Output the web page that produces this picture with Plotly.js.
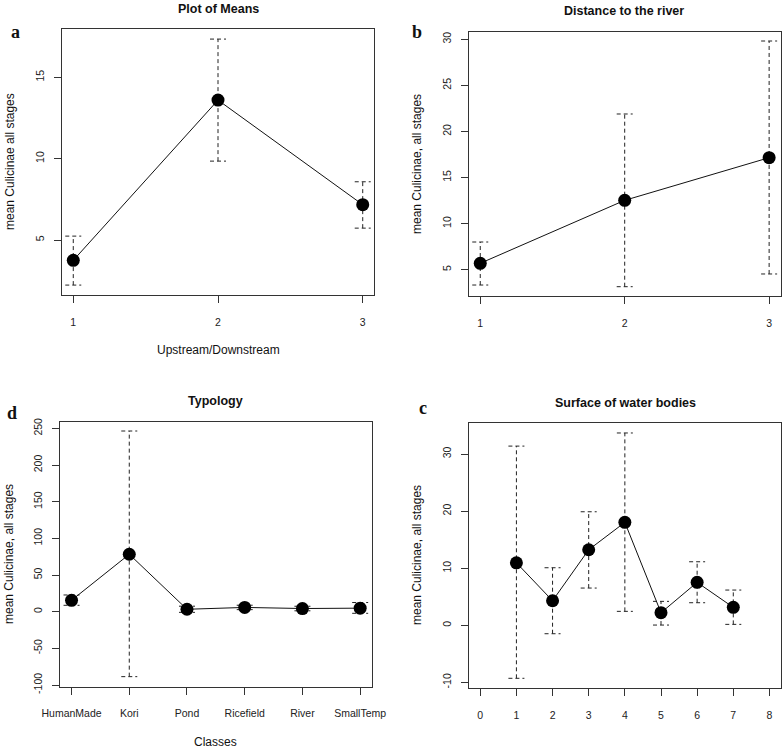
<!DOCTYPE html>
<html>
<head>
<meta charset="utf-8">
<script src="https://cdn.plot.ly/plotly-3.0.1.min.js"></script>
<style>html,body{margin:0;padding:0;background:#fff}#chart{width:784px;height:750px}</style>
</head>
<body>
<div id="chart"></div>
<script>
// ---- Data ----
// Panel a: Plot of Means (Upstream/Downstream)
const aX = [1, 2, 3];
const aMean = [3.75, 13.6, 7.17];
const aUpper = [5.24, 17.35, 8.58];
const aLower = [2.23, 9.85, 5.73];

// Panel b: Distance to the river
const bX = [1, 2, 3];
const bMean = [5.70, 12.53, 17.16];
const bUpper = [8.01, 21.9, 29.82];
const bLower = [3.34, 3.16, 4.54];

// Panel d: Typology
const dClasses = ["HumanMade", "Kori", "Pond", "Ricefield", "River", "SmallTemp"];
const dMean = [15.5, 78.3, 3.3, 5.8, 4.3, 4.8];
const dUpper = [22.8, 246.4, 7.5, 8.8, 7.4, 12.5];
const dLower = [8.7, -88.6, -0.9, 2.8, 1.2, -2.2];

// Panel c: Surface of water bodies
const cX = [1, 2, 3, 4, 5, 6, 7];
const cMean = [10.96, 4.31, 13.24, 18.04, 2.21, 7.53, 3.15];
const cUpper = [31.4, 10.09, 19.9, 33.7, 4.2, 11.14, 6.18];
const cLower = [-9.28, -1.47, 6.53, 2.45, 0.05, 3.96, 0.17];

// Tick values
const aYTicks = [5, 10, 15];
const bYTicks = [5, 10, 15, 20, 25, 30];
const dYTicks = [-100, -50, 0, 50, 100, 150, 200, 250];
const cXTicks = [0, 1, 2, 3, 4, 5, 6, 7, 8];
const cYTicks = [-10, 0, 10, 20, 30];

// ---- Layout geometry ----
const W = 784, H = 750;
const panels = {
  a: {xd: [61.7, 374.3], yd: [29, 295], xr: [0.92, 3.08], yr: [1.62, 17.97]},
  b: {xd: [468.7, 780.7], yd: [31.7, 296], xr: [0.92, 3.08], yr: [2.15, 30.83]},
  d: {xd: [60, 371.7], yd: [421.7, 686.7], xr: [0.8, 6.2], yr: [-102.3, 259.1]},
  c: {xd: [468.7, 781], yd: [422.7, 688.3], xr: [-0.32, 8.32], yr: [-11.03, 35.5]}
};
const CAP_PX = 8;

function errTraces(xs, lo, hi, p, xa, ya) {
  const pxPerUnit = (p.xd[1] - p.xd[0]) / (p.xr[1] - p.xr[0]);
  const hw = CAP_PX / pxPerUnit;
  const vx = [], vy = [], cx = [], cy = [];
  xs.forEach((x, i) => {
    vx.push(x, x, null); vy.push(lo[i], hi[i], null);
    cx.push(x - hw, x + hw, null); cy.push(hi[i], hi[i], null);
    cx.push(x - hw, x + hw, null); cy.push(lo[i], lo[i], null);
  });
  const line = {color: '#222', width: 1, dash: '4px,3px'};
  return [
    {x: vx, y: vy, xaxis: xa, yaxis: ya, mode: 'lines', line: line, hoverinfo: 'skip', showlegend: false},
    {x: cx, y: cy, xaxis: xa, yaxis: ya, mode: 'lines', line: line, hoverinfo: 'skip', showlegend: false}
  ];
}
function meanTrace(xs, ys, xa, ya) {
  return {x: xs, y: ys, xaxis: xa, yaxis: ya, mode: 'lines+markers',
    line: {color: '#111', width: 1}, marker: {color: '#000', size: 13},
    showlegend: false};
}

const dX = dClasses.map((_, i) => i + 1);

const data = [
  ...errTraces(aX, aLower, aUpper, panels.a, 'x', 'y'), meanTrace(aX, aMean, 'x', 'y'),
  ...errTraces(bX, bLower, bUpper, panels.b, 'x2', 'y2'), meanTrace(bX, bMean, 'x2', 'y2'),
  ...errTraces(dX, dLower, dUpper, panels.d, 'x3', 'y3'), meanTrace(dX, dMean, 'x3', 'y3'),
  ...errTraces(cX, cLower, cUpper, panels.c, 'x4', 'y4'), meanTrace(cX, cMean, 'x4', 'y4')
];

const tickFont = {family: 'Liberation Sans, Arial, sans-serif', size: 10.5, color: '#222'};
const lbl = v => String(v).replace('\u2212', '-');
function xaxis(p, extra) {
  return Object.assign({
    domain: [p.xd[0] / W, p.xd[1] / W], range: p.xr, showgrid: false, zeroline: false,
    showline: true, mirror: true, linecolor: '#333', linewidth: 1,
    ticks: 'outside', ticklen: 7, tickcolor: '#333', tickfont: tickFont,
    ticklabelstandoff: 10, fixedrange: true
  }, extra);
}
function yaxis(p, extra) {
  return Object.assign({
    domain: [1 - p.yd[1] / H, 1 - p.yd[0] / H], range: p.yr, showgrid: false, zeroline: false,
    showline: true, mirror: true, linecolor: '#333', linewidth: 1,
    ticks: 'outside', ticklen: 7, tickcolor: '#333', tickfont: tickFont,
    tickangle: -90, ticklabelstandoff: 6, fixedrange: true
  }, extra);
}

function ann(text, x, y, opts) {
  return Object.assign({text: text, x: x / W, y: 1 - y / H, xref: 'paper', yref: 'paper',
    showarrow: false, xanchor: 'center', yanchor: 'middle',
    font: {family: 'Liberation Sans, Arial, sans-serif', size: 12, color: '#111'}}, opts || {});
}
const titleFont = {family: 'Liberation Sans, Arial, sans-serif', size: 12.5, color: '#111', weight: 'bold'};
const letterFont = {family: 'Liberation Serif, Times New Roman, serif', size: 18, color: '#111', weight: 'bold'};

const annotations = [
  ann('<b>Plot of Means</b>', 218, 9, {font: titleFont}),
  ann('<b>Distance to the river</b>', 624, 11, {font: titleFont}),
  ann('<b>Typology</b>', 215, 401, {font: titleFont}),
  ann('<b>Surface of water bodies</b>', 625, 403, {font: titleFont}),
  ann('<b>a</b>', 15, 32, {font: letterFont}),
  ann('<b>b</b>', 417, 32, {font: letterFont}),
  ann('<b>d</b>', 12, 413, {font: letterFont}),
  ann('<b>c</b>', 423, 408, {font: letterFont}),
  ann('Upstream/Downstream', 218, 350),
  ann('Classes', 215, 742),
  ann('mean Culicinae all stages', 10, 162, {textangle: -90}),
  ann('mean Culicinae, all stages', 417, 164, {textangle: -90}),
  ann('mean Culicinae, all stages', 9, 554, {textangle: -90}),
  ann('mean Culicinae, all stages', 417, 555, {textangle: -90})
];

function yt(vals) { return {tickvals: vals, ticktext: vals.map(lbl)}; }

const layout = {
  width: W, height: H, margin: {l: 0, r: 0, t: 0, b: 0},
  paper_bgcolor: '#fff', plot_bgcolor: '#fff', showlegend: false,
  xaxis: xaxis(panels.a, {tickvals: aX, ticktext: aX.map(String)}),
  yaxis: yaxis(panels.a, yt(aYTicks)),
  xaxis2: xaxis(panels.b, {anchor: 'y2', tickvals: bX, ticktext: bX.map(String)}),
  yaxis2: yaxis(panels.b, Object.assign({anchor: 'x2'}, yt(bYTicks))),
  xaxis3: xaxis(panels.d, {anchor: 'y3', tickvals: dX, ticktext: dClasses}),
  yaxis3: yaxis(panels.d, Object.assign({anchor: 'x3'}, yt(dYTicks))),
  xaxis4: xaxis(panels.c, {anchor: 'y4', tickvals: cXTicks, ticktext: cXTicks.map(String)}),
  yaxis4: yaxis(panels.c, Object.assign({anchor: 'x4'}, yt(cYTicks))),
  annotations: annotations
};

Plotly.newPlot('chart', data, layout, {staticPlot: true, displayModeBar: false});
</script>
</body>
</html>
